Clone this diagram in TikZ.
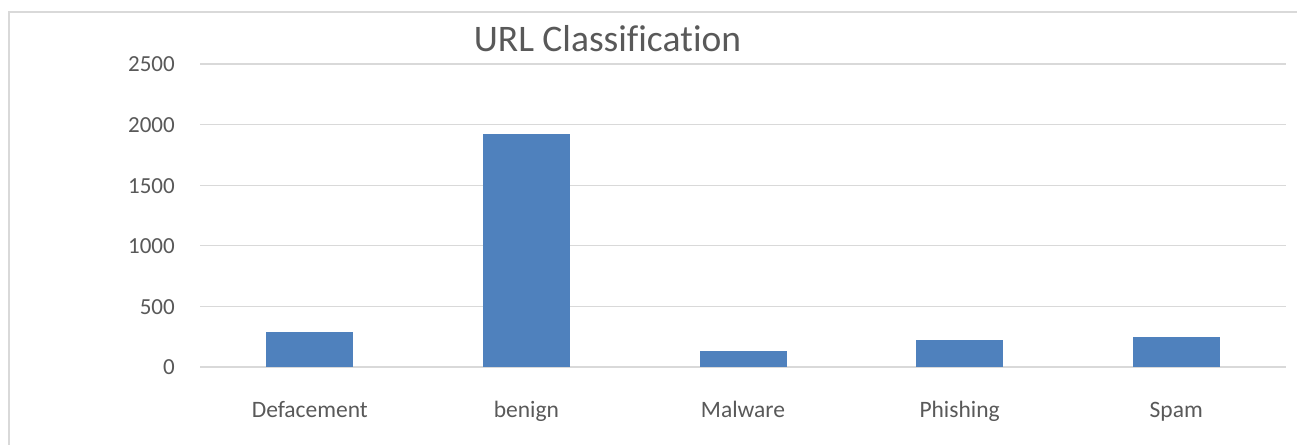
\documentclass[tikz,border=0pt]{standalone}
\usepackage{fontspec}
\setmainfont{Carlito}[Ligatures={NoCommon,NoContextual}]
\definecolor{barblue}{HTML}{4F81BD}
\definecolor{gridgray}{HTML}{D9D9D9}
\definecolor{txtgray}{HTML}{595959}
\begin{document}
\begin{tikzpicture}[x=1pt,y=-1pt,
  gridline/.style={draw=gridgray,line width=1.3pt},
  framebox/.style={draw=gridgray,line width=1.5pt},
  barbox/.style={fill=barblue,draw=none},
  ticklabel/.style={text=txtgray,font=\fontsize{23}{26}\selectfont,anchor=east,inner sep=0pt},
  catlabel/.style={text=txtgray,font=\fontsize{23.5}{26}\selectfont,anchor=base,inner sep=0pt},
  titlelabel/.style={text=txtgray,font=\fontsize{37.5}{40}\selectfont,anchor=base,inner sep=0pt}]
\useasboundingbox (0,0) rectangle (1297,444);
\fill[white] (0,0) rectangle (1297,444);
% frame (left and top edges visible)
\draw[framebox] (9,450) -- (9,12) -- (1300,12);
% gridlines and tick labels
\foreach \v [count=\i from 0] in {0,500,1000,1500,2000,2500} {
  \pgfmathsetmacro{\yy}{367-\i*60.6}
  \draw[gridline] (200,\yy) -- (1286,\yy);
  \node[ticklabel] (t\i) at (175,\yy+0.5) {\v};
}
% bars
\foreach \v/\lab [count=\i from 0] in {291/Defacement,1922/benign,132/Malware,220/Phishing,247/Spam} {
  \pgfmathsetmacro{\cx}{309.8+\i*216.6}
  \pgfmathsetmacro{\bartop}{367-\v/500*60.6}
  \fill[barbox] (\cx-43.5,367) rectangle (\cx+43.5,\bartop);
  \node[catlabel] (c\i) at (\cx,417) {\lab};
}
\node[titlelabel] (title) at (607.5,51.5) {URL Classifica\kern0pt t\kern0pt ion};
\end{tikzpicture}
\end{document}
